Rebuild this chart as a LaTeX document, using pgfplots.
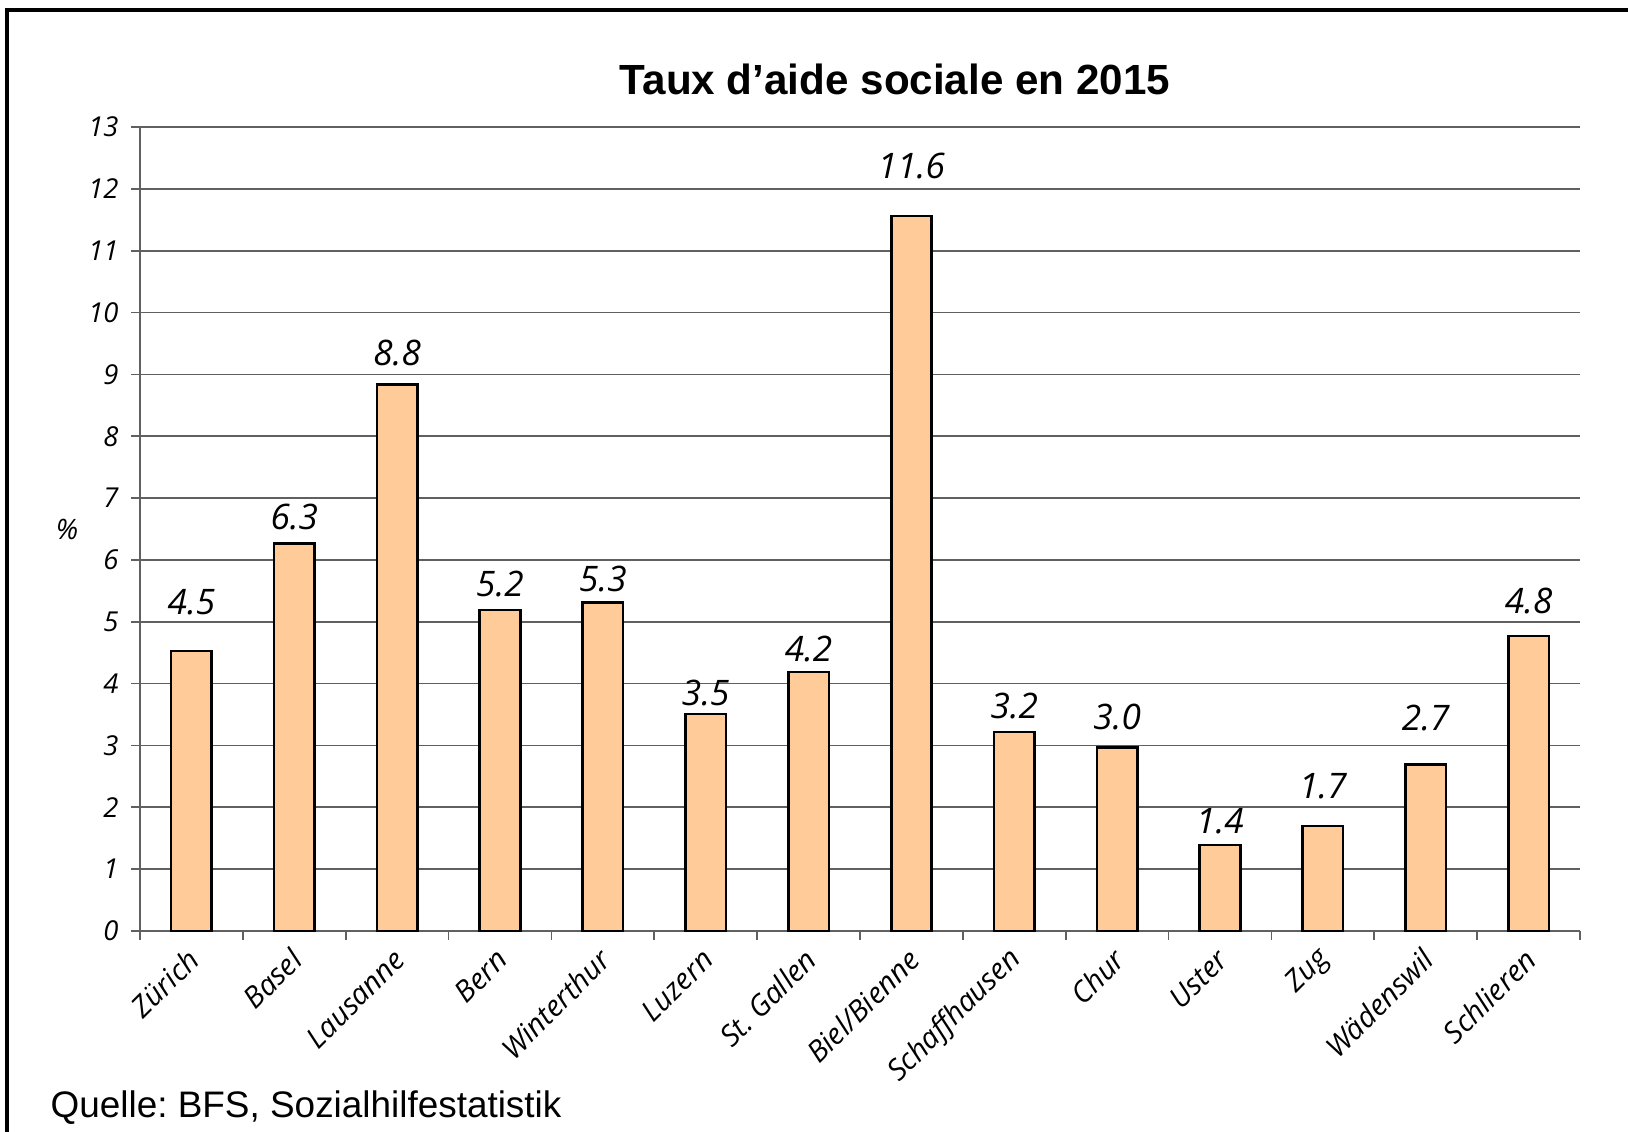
\documentclass[border=0pt]{standalone}
\usepackage{fontspec}
\setmainfont{Liberation Sans}
\newfontfamily\osans{Open Sans}
\usepackage{pgfplots}
\usepackage{pgfplotstable}
\pgfplotsset{compat=1.18}
\definecolor{barfill}{HTML}{FFCC99}
\definecolor{gridc}{HTML}{606060}
\frenchspacing

\pgfplotstableread{
x y lab dy
0 4.53 4.5 4.9
1 6.27 6.3 2.6
2 8.84 8.8 3.1
3 5.19 5.2 2.6
4 5.31 5.3 2.4
5 3.51 3.5 2.1
6 4.19 4.2 2.3
7 11.56 11.6 5.0
8 3.22 3.2 2.6
9 2.97 3.0 3.0
10 1.39 1.4 2.4
11 1.70 1.7 4.0
12 2.69 2.7 4.7
13 4.77 4.8 3.5
}\data

\begin{document}
\frenchspacing
\begin{tikzpicture}
\useasboundingbox (0,0) rectangle (162.8mm,113.1mm);
\draw[line width=0.9pt] (0.7mm,-2mm) -- (0.7mm,112.1mm) -- (170mm,112.1mm);
\begin{axis}[
  at={(14mm,20mm)}, anchor=south west,
  width=144mm, height=80.4mm, scale only axis,
  clip=false,
  xmin=-0.5, xmax=13.5, ymin=0, ymax=13,
  ytick={0,...,13},
  xtick={0,...,13},
  xticklabels={Zürich,Basel,Lausanne,Bern,Winterthur,Luzern,St.\ Gallen,Biel/Bienne,Schaffhausen,Chur,Uster,Zug,Wädenswil,Schlieren},
  minor xtick={-0.5,0.5,...,13.5},
  major x tick style={draw=none},
  tick align=outside, major tick length=0.9mm, minor tick length=0.9mm,
  every tick/.style={gridc, line width=0.5pt},
  axis x line*=bottom, axis y line*=left,
  axis line style={gridc, line width=0.5pt, -},
  ymajorgrids, grid style={gridc, line width=0.5pt},
  /pgf/number format/assume math mode=true,
  yticklabel style={font=\osans\itshape\fontsize{7.8}{9}\selectfont, text=black},
  xticklabel style={xshift=1.1mm, yshift=-0.6mm, font=\osans\itshape\fontsize{8.3}{10}\selectfont, rotate=45, anchor=east, text=black},
  ylabel={\%},
  ylabel style={rotate=-90, font=\osans\itshape\fontsize{8}{10}\selectfont, at={(axis description cs:0,0.5)}, anchor=center, xshift=-7.3mm},
  ybar, bar width=4.05mm, bar shift=0pt,
  point meta=explicit symbolic,
  visualization depends on={\thisrow{dy} \as \dy},
  nodes near coords,
  nodes near coords style={anchor=center, yshift=\dy mm, font=\osans\itshape\fontsize{10}{12}\selectfont, text=black},
]
\addplot[fill=barfill, draw=black, line width=0.75pt] table[x=x, y=y, meta=lab] {\data};
\end{axis}
\node[font=\bfseries\fontsize{12}{14}\selectfont] at (89.5mm,105.2mm) {Taux d’aide sociale en 2015};
\node[anchor=base west, inner sep=0pt, font=\fontsize{10.5}{12}\selectfont] at (5mm,1.4mm) {Quelle: BFS, Sozialhilfestatistik};
\end{tikzpicture}
\end{document}
